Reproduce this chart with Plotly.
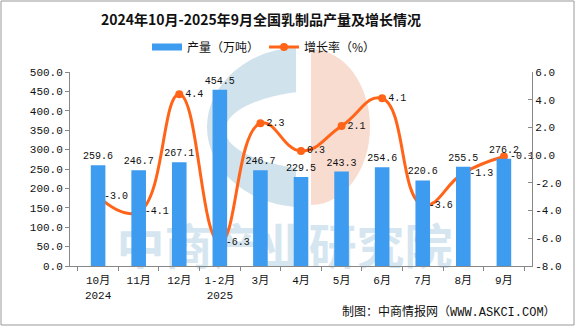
import plotly.graph_objects as go

categories = ["10月<br>2024", "11月", "12月", "1-2月<br>2025", "3月", "4月", "5月", "6月", "7月", "8月", "9月"]
production = [259.6, 246.7, 267.1, 454.5, 246.7, 229.5, 243.3, 254.6, 220.6, 255.5, 276.2]
growth = [-3.0, -4.1, 4.4, -6.3, 2.3, 0.3, 2.1, 4.1, -3.6, -1.3, -0.1]
left_ticks = [0, 50, 100, 150, 200, 250, 300, 350, 400, 450, 500]
right_ticks = [-8, -6, -4, -2, 0, 2, 4, 6]

CJK = "Noto Sans CJK SC"
MONO = "Liberation Mono, Noto Sans CJK SC"
W, H = 575, 326
L, R, T, B = 70, 43, 72, 60
PW, PH = W - L - R, H - T - B
BLUE = "#3D9BF0"
ORANGE = "#FF6418"


def px(x):
    return (x - L) / PW


def py(y):
    return (H - B - y) / PH


fig = go.Figure()
# watermark text on the main subplot (drawn beneath the overlaid data subplots)
fig.add_trace(go.Scatter(
    x=[categories[4]], y=[(H - B - 252) / PH * 500], mode="text",
    text=["<b>\u3000中商产业研究院</b>"], textposition="middle center",
    textfont=dict(family=CJK, size=48, color="rgba(200,222,236,0.75)"),
    hoverinfo="skip", showlegend=False, cliponaxis=False, yaxis="y",
))
fig.add_trace(go.Bar(
    x=categories, y=production, name="产量（万吨）", yaxis="y3",
    marker=dict(color=BLUE, line=dict(width=0)),
    width=0.36, showlegend=False,
    text=[f"{v:.1f}" for v in production], textposition="outside",
    constraintext="none",
    textfont=dict(family=MONO, size=10, color="#111"),
    cliponaxis=False,
))
# legend entry drawn as a wide bar-like swatch
fig.add_trace(go.Scatter(
    x=[None], y=[None], mode="lines", name="产量（万吨）", yaxis="y3",
    line=dict(color=BLUE, width=7), hoverinfo="skip",
))
fig.add_trace(go.Scatter(
    x=categories, y=growth, name="增长率（%）", yaxis="y2",
    mode="lines+markers+text",
    line=dict(color=ORANGE, width=3, shape="spline", smoothing=1.3),
    marker=dict(color=ORANGE, size=8),
    text=[f"{v:.1f}" for v in growth], textposition="middle right",
    textfont=dict(family=MONO, size=10, color="#111"),
    cliponaxis=False,
))


def ellipse(cx, cy, rx, ry, color):
    fig.add_shape(type="circle", xref="paper", yref="paper", layer="below",
                  x0=px(cx - rx), x1=px(cx + rx), y0=py(cy + ry), y1=py(cy - ry),
                  fillcolor=color, line=dict(width=0))


# faint logo
ellipse(303, 127, 96, 80, "rgb(208,226,236)")
ellipse(330, 130, 105, 40, "white")
fig.add_shape(type="rect", xref="paper", yref="paper", layer="below",
              x0=px(296), x1=px(430), y0=py(212), y1=py(40),
              fillcolor="white", line=dict(width=0))
cx, cy, rx, ry, k = 311, 127, 59, 78, 0.5523
pts = [(cx, cy - ry), (cx + k * rx, cy - ry), (cx + rx, cy - k * ry), (cx + rx, cy),
       (cx + rx, cy + k * ry), (cx + k * rx, cy + ry), (cx, cy + ry)]
pp = [(px(a), py(b)) for a, b in pts]
path = (f"M {pp[0][0]},{pp[0][1]} C {pp[1][0]},{pp[1][1]} {pp[2][0]},{pp[2][1]} {pp[3][0]},{pp[3][1]} "
        f"C {pp[4][0]},{pp[4][1]} {pp[5][0]},{pp[5][1]} {pp[6][0]},{pp[6][1]} Z")
fig.add_shape(type="path", xref="paper", yref="paper", layer="below", path=path,
              fillcolor="rgb(248,220,208)", line=dict(width=0))

fig.update_layout(
    width=W, height=H,
    margin=dict(l=L, r=R, t=T, b=B),
    paper_bgcolor="white", plot_bgcolor="rgba(0,0,0,0)",
    font=dict(family=CJK, size=11, color="#111"),
    title=dict(text="<b>2024年10月-2025年9月全国乳制品产量及增长情况</b>",
               x=261 / W, xanchor="center", y=1 - 20 / H, yanchor="middle",
               font=dict(family=CJK, size=14, color="#111")),
    legend=dict(orientation="h", x=px(264), xanchor="center", y=py(47), yanchor="middle",
                font=dict(family=CJK, size=12), itemwidth=30, bgcolor="rgba(0,0,0,0)"),
    showlegend=True,
    bargap=0.6,
    xaxis=dict(type="category", categoryorder="array", categoryarray=categories,
               showline=True, linecolor="#888", linewidth=1, ticks="outside",
               tickcolor="#888", ticklen=4, tickson="boundaries", ticklabelstandoff=4,
               tickfont=dict(family=MONO, size=11), showgrid=False),
    yaxis=dict(range=[0, 500], tickvals=left_ticks, ticktext=[f"{v:.1f}" for v in left_ticks],
               showline=True, linecolor="#888", ticks="outside", tickcolor="#888", ticklen=4,
               showgrid=False, zeroline=False, tickfont=dict(family=MONO, size=11)),
    yaxis3=dict(range=[0, 500], overlaying="y", visible=False, showgrid=False, zeroline=False),
    yaxis2=dict(range=[-8, 6], tickvals=right_ticks, ticktext=[f"{v:.1f}" for v in right_ticks],
                overlaying="y", side="right", showline=True, linecolor="#888",
                ticks="inside", tickcolor="#888", ticklen=4, showgrid=False, zeroline=False,
                tickfont=dict(family=MONO, size=11)),
    annotations=[
        dict(text="制图：中商情报网（WWW.ASKCI.COM）", xref="paper", yref="paper",
             x=px(558), y=py(312), xanchor="right", yanchor="middle", showarrow=False,
             font=dict(family=MONO, size=12, color="#111")),
    ],
)
fig.add_shape(type="rect", xref="paper", yref="paper",
              x0=px(1), x1=px(W - 1), y0=py(H - 1), y1=py(1),
              line=dict(color="#999", width=1), layer="below")

fig.write_html("out.html")
